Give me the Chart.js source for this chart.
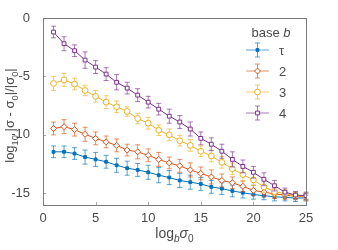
<!DOCTYPE html>
<html>
<head>
<meta charset="utf-8">
<script src="https://cdn.jsdelivr.net/npm/chart.js@4.4.1/dist/chart.umd.min.js"></script>
<style>
  html, body { margin: 0; padding: 0; background: #fff; }
</style>
</head>
<body>
<canvas id="chart" width="338" height="250"></canvas>
<script>
// x positions: log_b sigma_0
const steps = [1, 2, 3, 4, 5, 6, 7, 8, 9, 10, 11, 12, 13, 14, 15, 16, 17, 18, 19, 20, 21, 22, 23, 24, 25];

// log10 relative error per base
const baseTau = [-11.45, -11.45, -11.6, -11.9, -12.1, -12.3, -12.6, -12.85, -13.0, -13.2, -13.45, -13.65, -13.9, -14.05, -14.2, -14.45, -14.6, -14.8, -14.95, -15.1, -15.2, -15.3, -15.35, -15.4, -15.4];
const base2 = [-9.45, -9.3, -9.55, -9.95, -10.3, -10.6, -10.9, -11.3, -11.45, -11.75, -12.1, -12.4, -12.65, -13.0, -13.3, -13.6, -13.9, -14.1, -14.4, -14.75, -14.9, -15.05, -15.15, -15.25, -15.3];
const base3 = [-5.6, -5.3, -5.65, -6.2, -6.7, -7.2, -7.6, -8.0, -8.6, -9.0, -9.6, -10.0, -10.5, -10.9, -11.4, -11.8, -12.35, -12.9, -13.4, -13.85, -14.45, -14.85, -15.05, -15.2, -15.25];
const base4 = [-1.2, -2.2, -2.8, -3.6, -4.2, -4.8, -5.5, -6.0, -6.6, -7.2, -7.8, -8.4, -8.9, -9.5, -10.3, -10.8, -11.4, -12.1, -12.7, -13.2, -13.8, -14.35, -14.9, -15.15, -15.2];

// error bar half-lengths
const errTau = [0.5, 0.5, 0.5, 0.6, 0.6, 0.55, 0.6, 0.6, 0.55, 0.6, 0.65, 0.6, 0.6, 0.6, 0.55, 0.55, 0.5, 0.5, 0.45, 0.4, 0.35, 0.35, 0.3, 0.3, 0.25];
const err2 = [0.55, 0.6, 0.55, 0.6, 0.55, 0.5, 0.55, 0.5, 0.6, 0.55, 0.6, 0.5, 0.55, 0.6, 0.55, 0.6, 0.55, 0.5, 0.45, 0.45, 0.4, 0.4, 0.35, 0.3, 0.3];
const err3 = [0.6, 0.55, 0.5, 0.45, 0.5, 0.55, 0.5, 0.4, 0.45, 0.5, 0.45, 0.5, 0.45, 0.5, 0.45, 0.5, 0.5, 0.5, 0.55, 0.5, 0.5, 0.45, 0.35, 0.3, 0.3];
const err4 = [0.5, 0.6, 0.5, 0.7, 0.55, 0.55, 0.65, 0.5, 0.55, 0.5, 0.5, 0.6, 0.55, 0.6, 0.55, 0.55, 0.6, 0.65, 0.55, 0.5, 0.55, 0.45, 0.35, 0.3, 0.3];

const seriesLabels = ['τ', '2', '3', '4'];
const xTicks = [0, 5, 10, 15, 20, 25];
const yTicks = [-15, -10, -5, 0];

const FONT = '"Liberation Sans", Arial, Helvetica, sans-serif';
const TEXT_COLOR = '#4a4a4a';

const colors = ['#0072BD', '#D95319', '#EDB120', '#7E2F8E'];
const markers = ['rect', 'rectRot', 'circle', 'rect'];
const markerSize = [2.0, 3.0, 2.9, 2.7];
const markerFill = [colors[0], '#fff', '#fff', '#fff'];
const allValues = [baseTau, base2, base3, base4];
const allErrors = [errTau, err2, err3, err4];

function rgba(hex, a) {
    const n = parseInt(hex.slice(1), 16);
    return `rgba(${(n >> 16) & 255},${(n >> 8) & 255},${n & 255},${a})`;
}

// draw a run of text pieces, some of them subscripted or italic
function drawRich(ctx, parts, x, y, size) {
    let total = 0;
    parts.forEach(p => {
        const s = p.sub ? size * 0.72 : size;
        ctx.font = `${p.italic ? 'italic ' : ''}${s}px ${FONT}`;
        p.w = ctx.measureText(p.t).width;
        total += p.w;
    });
    let cx = x - total / 2;
    ctx.textAlign = 'left';
    ctx.textBaseline = 'alphabetic';
    parts.forEach(p => {
        const s = p.sub ? size * 0.72 : size;
        ctx.font = `${p.italic ? 'italic ' : ''}${s}px ${FONT}`;
        ctx.fillText(p.t, cx, y + (p.sub ? size * 0.3 : 0));
        cx += p.w;
    });
}

function drawErrorBar(ctx, x, yTop, yBot, color, cap) {
    ctx.strokeStyle = color;
    ctx.lineWidth = 1;
    ctx.beginPath();
    ctx.moveTo(x, yTop);
    ctx.lineTo(x, yBot);
    ctx.moveTo(x - cap, yTop);
    ctx.lineTo(x + cap, yTop);
    ctx.moveTo(x - cap, yBot);
    ctx.lineTo(x + cap, yBot);
    ctx.stroke();
}

const errorBarPlugin = {
    id: 'errorBars',
    beforeDatasetDraw(chart, args) {
        const ctx = chart.ctx;
        const yScale = chart.scales.y;
        const i = args.index;
        const errs = allErrors[i];
        const vals = allValues[i];
        ctx.save();
        args.meta.data.forEach((pt, k) => {
            const top = yScale.getPixelForValue(vals[k] + errs[k]);
            const bot = yScale.getPixelForValue(vals[k] - errs[k]);
            drawErrorBar(ctx, pt.x, top, bot, rgba(colors[i], 0.65), 2.5);
        });
        ctx.restore();
    }
};

const framePlugin = {
    id: 'frame',
    afterDraw(chart) {
        const ctx = chart.ctx;
        const a = chart.chartArea;
        ctx.save();
        // inward ticks
        ctx.strokeStyle = '#aaa';
        ctx.lineWidth = 1;
        ctx.beginPath();
        xTicks.forEach(v => {
            const px = Math.round(chart.scales.x.getPixelForValue(v)) + 0.5;
            ctx.moveTo(px, a.bottom);
            ctx.lineTo(px, a.bottom - 3);
        });
        yTicks.forEach(v => {
            const py = Math.round(chart.scales.y.getPixelForValue(v)) + 0.5;
            ctx.moveTo(a.left, py);
            ctx.lineTo(a.left + 3, py);
        });
        ctx.stroke();
        // box
        ctx.strokeStyle = '#7a7a7a';
        ctx.strokeRect(Math.round(a.left) + 0.5, Math.round(a.top) + 0.5,
            Math.round(a.right - a.left), Math.round(a.bottom - a.top));

        // axis titles
        ctx.fillStyle = TEXT_COLOR;
        drawRich(ctx, [
            { t: 'log' },
            { t: 'b', sub: true, italic: true },
            { t: 'σ', italic: true },
            { t: '0', sub: true }
        ], (a.left + a.right) / 2, 238, 14);

        ctx.save();
        ctx.translate(14, (a.top + a.bottom) / 2 + 4);
        ctx.rotate(-Math.PI / 2);
        drawRich(ctx, [
            { t: 'log' },
            { t: '10', sub: true },
            { t: ' |σ - σ' },
            { t: '0', sub: true },
            { t: '|/|σ' },
            { t: '0', sub: true },
            { t: '|' }
        ], 0, 0, 13);
        ctx.restore();

        // legend
        const lx0 = a.right - 60, lx1 = a.right - 37, lc = (lx0 + lx1) / 2;
        drawRich(ctx, [{ t: 'base ' }, { t: 'b', italic: true }], a.right - 35, a.top + 19, 13);
        seriesLabels.forEach((lab, i) => {
            const ly = a.top + 32 + i * 21;
            ctx.strokeStyle = rgba(colors[i], 0.65);
            ctx.lineWidth = 1;
            ctx.beginPath();
            ctx.moveTo(lx0, ly);
            ctx.lineTo(lx1, ly);
            ctx.stroke();
            drawErrorBar(ctx, lc, ly - 7, ly + 7, rgba(colors[i], 0.65), 2.5);
            ctx.fillStyle = markerFill[i];
            ctx.strokeStyle = colors[i];
            Chart.helpers.drawPoint(ctx, {
                pointStyle: markers[i], radius: markerSize[i], borderWidth: 1
            }, lc, ly);
            ctx.fillStyle = TEXT_COLOR;
            ctx.font = `13px ${FONT}`;
            ctx.textAlign = 'left';
            ctx.textBaseline = 'middle';
            ctx.fillText(lab, a.right - 27, ly + 1);
        });
        ctx.restore();
    }
};

const datasets = allValues.map((vals, i) => ({
    label: seriesLabels[i],
    data: steps.map((x, k) => ({ x: x, y: vals[k] })),
    borderColor: colors[i],
    backgroundColor: markerFill[i],
    pointBorderColor: colors[i],
    pointBackgroundColor: markerFill[i],
    pointStyle: markers[i],
    pointRadius: markerSize[i],
    pointBorderWidth: 1,
    borderWidth: 1,
    tension: 0,
    order: 4 - i
}));

new Chart(document.getElementById('chart'), {
    type: 'line',
    data: { datasets: datasets },
    options: {
        responsive: false,
        animation: false,
        devicePixelRatio: 1,
        layout: { padding: { left: 0, right: 32, top: 18, bottom: 0 } },
        plugins: {
            legend: { display: false },
            tooltip: { enabled: false }
        },
        scales: {
            x: {
                type: 'linear',
                min: 0,
                max: 25,
                grid: { display: false, drawTicks: false },
                border: { display: false },
                afterBuildTicks: s => { s.ticks = xTicks.map(v => ({ value: v })); },
                afterFit: s => { s.height = 45; },
                ticks: {
                    padding: 6,
                    maxRotation: 0,
                    color: TEXT_COLOR,
                    font: { family: FONT, size: 13 }
                }
            },
            y: {
                min: -16,
                max: 0,
                grid: { display: false },
                border: { display: false },
                afterBuildTicks: s => { s.ticks = yTicks.map(v => ({ value: v })); },
                afterFit: s => { s.width = 43; },
                ticks: {
                    padding: 5,
                    color: TEXT_COLOR,
                    font: { family: FONT, size: 13 }
                }
            }
        }
    },
    plugins: [errorBarPlugin, framePlugin]
});
</script>
</body>
</html>
